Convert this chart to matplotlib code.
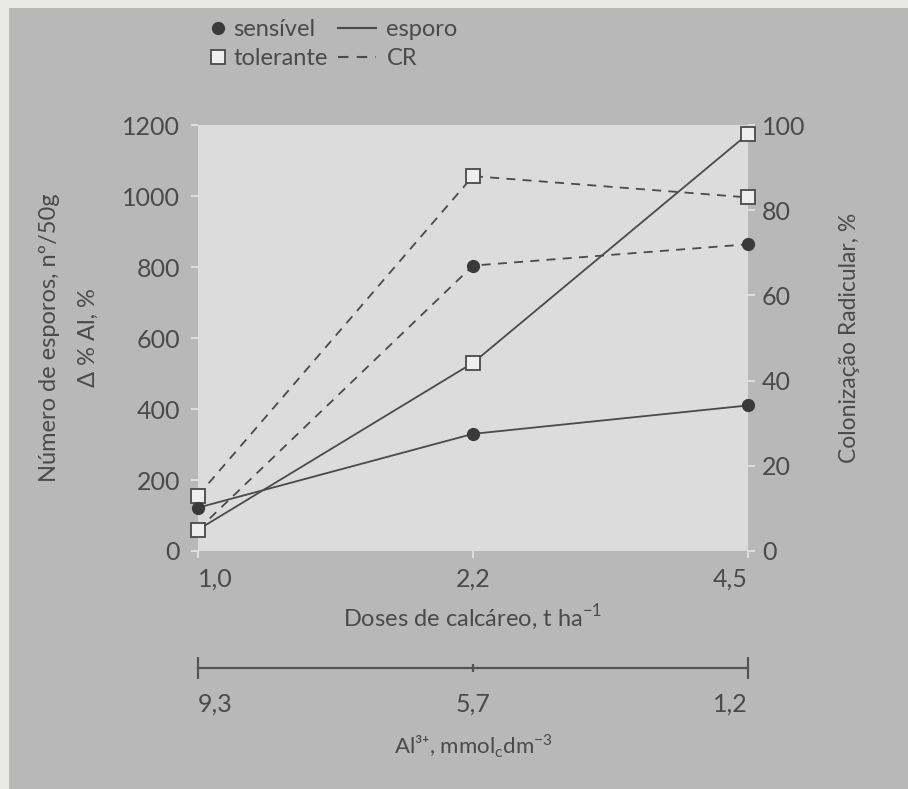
import matplotlib
matplotlib.use("Agg")
import matplotlib.pyplot as plt
from matplotlib.lines import Line2D
from matplotlib.patches import Rectangle

# data
doses = ["1,0", "2,2", "4,5"]
al_labels = ["9,3", "5,7", "1,2"]
esporo_sensivel = [122, 330, 410]
esporo_tolerante = [60, 530, 1175]
cr_sensivel = [5, 67, 72]
cr_tolerante = [13, 88, 83]

plt.rcParams['font.family'] = ['Lato', 'DejaVu Sans']
plt.rcParams['mathtext.fontset'] = 'custom'
plt.rcParams['mathtext.rm'] = 'Lato'

txt = '#4a4a4a'
line_c = '#4a4a4a'
tick_c = '#e6e6e6'
bg = '#b8b8b8'
panel = '#dcdcdc'

fig = plt.figure(figsize=(9.08, 7.89), dpi=100, facecolor='#e9e9e7')
fig.add_artist(Rectangle((0.01, 0), 1, 0.99, transform=fig.transFigure,
                         facecolor=bg, edgecolor='none', zorder=-10))

x = list(range(len(doses)))

ax = fig.add_axes([198 / 908, 1 - 551 / 789, 550 / 908, 426 / 789])
ax.set_xlim(0, 2)
ax.set_ylim(0, 1200)
ax2 = ax.twinx()
ax2.set_ylim(0, 100)
for a in (ax, ax2):
    for s in a.spines.values():
        s.set_visible(False)
# left axis (esporos) drawn above the right one
ax.set_zorder(ax2.get_zorder() + 1)
ax.patch.set_visible(False)
ax2.patch.set_visible(True)
ax2.patch.set_facecolor(panel)

sq = dict(marker='s', ms=10, mfc='#eeeeee', mec=line_c, mew=1.3)
ci = dict(marker='o', ms=8.5, mfc='#3a3a3a', mec='#3a3a3a')

# CR on the right axis (dashed)
ax2.plot(x, cr_sensivel, ls=(0, (5, 4)), color=line_c, lw=1.3, clip_on=False, zorder=3, **ci)
ax2.plot(x, cr_tolerante, ls=(0, (5, 4)), color=line_c, lw=1.3, clip_on=False, zorder=3, **sq)
# esporos on the left axis (solid)
ax.plot(x, esporo_tolerante, ls='-', color=line_c, lw=1.3, clip_on=False, zorder=3, **sq)
ax.plot(x, esporo_sensivel, ls='-', color=line_c, lw=1.3, clip_on=False, zorder=4, **ci)

ax.set_yticks(range(0, 1201, 200))
ax.tick_params(axis='y', colors=tick_c, labelcolor=txt, labelsize=18, length=5, width=1.2, pad=8)
ax2.set_yticks(range(0, 101, 20))
ax2.tick_params(axis='y', colors=tick_c, labelcolor=txt, labelsize=18, length=5, width=1.2, pad=5)
ax.set_xticks(x)
ax.set_xticklabels(doses)
ax.tick_params(axis='x', colors=tick_c, labelcolor=txt, labelsize=18, length=5, width=1.2, pad=7)
xt = ax.get_xticklabels()
xt[0].set_ha('left')
xt[-1].set_ha('right')

ax.text(-0.27, 0.5, 'Número de esporos, nº/50g', transform=ax.transAxes, rotation=90,
        ha='center', va='center', fontsize=17, color=txt)
ax.text(-0.2, 0.5, 'Δ % Al, %', transform=ax.transAxes, rotation=90,
        ha='center', va='center', fontsize=17, color=txt)
ax2.set_ylabel('Colonização Radicular, %', fontsize=16.5, color=txt, labelpad=24)
ax.set_xlabel(r'Doses de calcáreo, t ha$^{-1}$', fontsize=17, color=txt, labelpad=9)

# second scale: Al3+
axb = fig.add_axes([198 / 908, 1 - 668 / 789, 550 / 908, 0.001])
axb.set_xlim(0, 2)
axb.patch.set_visible(False)
for k in ['top', 'left', 'right']:
    axb.spines[k].set_visible(False)
axb.spines['bottom'].set_color('#555555')
axb.spines['bottom'].set_linewidth(1.6)
axb.set_yticks([])
axb.set_xticks(x)
axb.set_xticklabels(al_labels)
axb.tick_params(axis='x', direction='inout', colors='#555555', labelcolor=txt,
                labelsize=18, width=1.6, length=16, pad=10)
axb.xaxis.get_major_ticks()[1].tick1line.set_markersize(6)
bt = axb.get_xticklabels()
bt[0].set_ha('left')
bt[-1].set_ha('right')
axb.set_xlabel('Al³⁺, mmol$_{\\mathrm{c}}$dm$^{-3}$', fontsize=16, color=txt, labelpad=12)

# legend: markers in one block, line styles in another
mk_handles = [Line2D([], [], ls='none', **ci), Line2D([], [], ls='none', **sq)]
ln_handles = [Line2D([], [], ls='-', color=line_c, lw=1.5),
              Line2D([], [], ls=(0, (5, 4)), color=line_c, lw=1.5)]
leg_kw = dict(loc='upper left', frameon=False, fontsize=17, labelcolor=txt,
              borderaxespad=0, borderpad=0, labelspacing=0.35)
fig.legend(mk_handles, ['sensível', 'tolerante'], bbox_to_anchor=(211 / 908, 1 - 19 / 789),
           handlelength=0.6, handletextpad=0.35, **leg_kw)
fig.legend(ln_handles, ['esporo', 'CR'], bbox_to_anchor=(338 / 908, 1 - 19 / 789),
           handlelength=1.6, handletextpad=0.45, **leg_kw)

fig.savefig('out.png', dpi=100, facecolor=fig.get_facecolor())
